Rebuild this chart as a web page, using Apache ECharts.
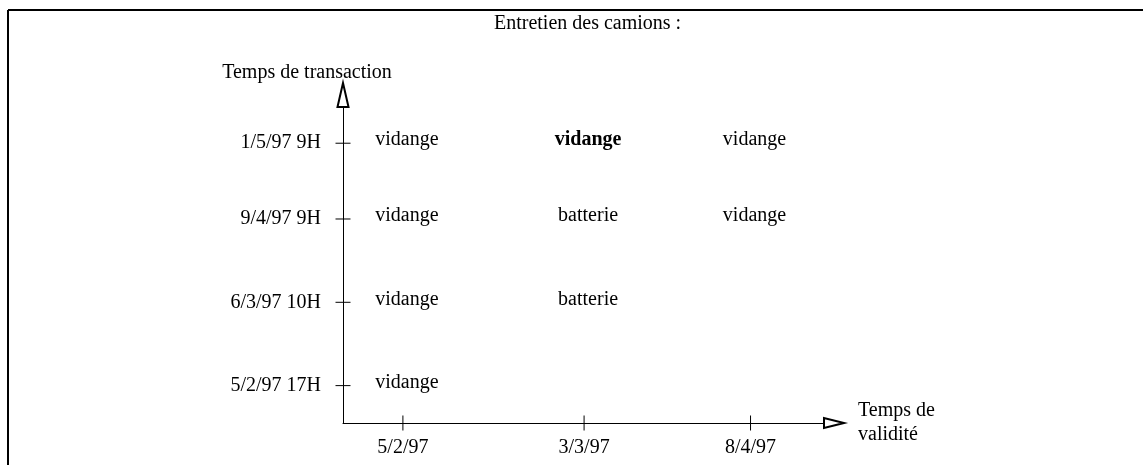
<!DOCTYPE html>
<html>
<head>
<meta charset="utf-8">
<script src="https://cdn.jsdelivr.net/npm/echarts@6/dist/echarts.min.js"></script>
<style>
  html, body { margin: 0; padding: 0; background: #fff; }
  #chart { width: 1143px; height: 465px; }
</style>
</head>
<body>
<div id="chart"></div>
<script>
// validity time (x) and transaction time (y) ticks
const validDates = ["5/2/97", "3/3/97", "8/4/97"];
const validPos = [1.22, 4.91, 8.3];
const transDates = ["5/2/97 17H", "6/3/97 10H", "9/4/97 9H", "1/5/97 9H"];
const transPos = [1.14, 3.68, 6.22, 8.53];

// cells: column = validity index, row = transaction index
const cellCol = [0, 0, 0, 0, 1, 1, 1, 2, 2];
const cellRow = [0, 1, 2, 3, 1, 2, 3, 2, 3];
const cellText = ["vidange", "vidange", "vidange", "vidange", "batterie", "batterie", "vidange", "vidange", "vidange"];
const cellBold = [false, false, false, false, false, false, true, false, false];

const font = "Liberation Serif";
const fs = 20;
const chart = echarts.init(document.getElementById("chart"));

const cells = cellText.map((t, i) => ({
  value: [validPos[cellCol[i]], transPos[cellRow[i]]],
  name: t,
  label: { fontWeight: cellBold[i] ? "bold" : "normal" },
}));

chart.setOption({
  animation: false,
  backgroundColor: "#fff",
  title: {
    text: "Entretien des camions :",
    left: 494,
    top: 14,
    padding: 0,
    textStyle: { fontFamily: font, fontSize: fs, fontWeight: "normal", color: "#000" },
  },
  grid: { left: 343, right: 309, top: 95, bottom: 42 },
  xAxis: {
    type: "value",
    min: 0,
    max: 10,
    name: "Temps de\nvalidité",
    nameLocation: "end",
    nameGap: 24,
    nameTextStyle: {
      fontFamily: font, fontSize: fs, color: "#000",
      align: "left", verticalAlign: "middle", lineHeight: 24,
    },
    axisLine: {
      lineStyle: { color: "#000", width: 1 },
      symbol: ["none", "emptyTriangle"],
      symbolSize: [10, 20],
    },
    axisTick: { show: false },
    splitLine: { show: false },
    axisLabel: {
      customValues: validPos,
      formatter: (v) => validDates[validPos.indexOf(v)] || "",
      fontFamily: font, fontSize: fs, color: "#000",
      margin: 15,
    },
  },
  yAxis: {
    type: "value",
    min: 0,
    max: 10,
    name: "Temps de transaction",
    nameLocation: "end",
    nameGap: 12,
    nameTextStyle: {
      fontFamily: font, fontSize: fs, color: "#000",
      padding: [0, 72, 0, 0],
    },
    axisLine: {
      show: true,
      lineStyle: { color: "#000", width: 1 },
      symbol: ["none", "emptyTriangle"],
      symbolSize: [11, 24],
    },
    axisTick: { show: false },
    splitLine: { show: false },
    axisLabel: {
      customValues: transPos,
      formatter: (v) => transDates[transPos.indexOf(v)] || "",
      fontFamily: font, fontSize: fs, color: "#000",
      margin: 22,
    },
  },
  graphic: [
    { type: "line", shape: { x1: 8, y1: 10, x2: 1143, y2: 10 }, style: { stroke: "#000", lineWidth: 2 } },
    { type: "line", shape: { x1: 8, y1: 10, x2: 8, y2: 465 }, style: { stroke: "#000", lineWidth: 2 } },
  ],
  series: [
    {
      // crossing tick marks on the transaction axis
      type: "scatter",
      symbol: "rect",
      symbolSize: [15, 1],
      itemStyle: { color: "#000", opacity: 1 },
      data: transPos.map((v) => [0, v]),
      silent: true,
      z: 5,
    },
    {
      // crossing tick marks on the validity axis
      type: "scatter",
      symbol: "rect",
      symbolSize: [1, 15],
      itemStyle: { color: "#000", opacity: 1 },
      data: validPos.map((v) => [v, 0]),
      silent: true,
      z: 5,
    },
    {
      type: "scatter",
      symbolSize: 0,
      silent: true,
      itemStyle: { color: "#000", opacity: 1 },
      data: cells,
      label: {
        show: true,
        position: "inside",
        offset: [4, -3],
        formatter: (p) => p.name,
        fontFamily: font,
        fontSize: fs,
        color: "#000",
      },
    },
  ],
});
</script>
</body>
</html>
